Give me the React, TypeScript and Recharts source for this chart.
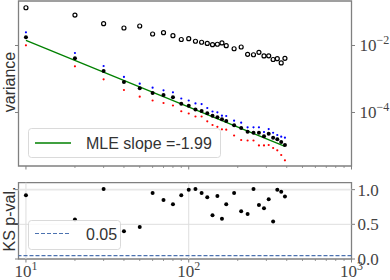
import React from 'react';
import { ComposedChart, Scatter, XAxis, YAxis, ReferenceLine, ReferenceArea } from 'recharts';

// sample sizes (x) shared by both panels
const sizes = [10, 20, 30, 40, 50, 60, 70, 80, 90, 100, 110, 120, 130, 140, 150, 160, 170, 190, 210, 230, 250, 270, 290, 310, 330, 350, 370, 390];

// top panel: variance estimates
const openVar = [0.134, 0.081, 0.0448, 0.0333, 0.0382, 0.022, 0.0241, 0.0196, 0.0151, 0.016, 0.0134, 0.0125, 0.0115, 0.0106, 0.0109, 0.0119, 0.0099, 0.008, 0.009, 0.00546, 0.0053, 0.00626, 0.00487, 0.0049, 0.00382, 0.00403, 0.00301, 0.00415];
const mleVar = [0.0176, 0.00415, 0.00173, 0.000813, 0.000527, 0.000382, 0.000333, 0.000284, 0.000182, 0.000158, 0.000123, 0.000111, 9.46e-5, 8.02e-5, 7.19e-5, 6.27e-5, 5.57e-5, 4.15e-5, 3.45e-5, 2.67e-5, 2.49e-5, 2.49e-5, 1.95e-5, 2.33e-5, 1.77e-5, 1.58e-5, 1.32e-5, 1.07e-5];
const upperVar = [0.0248, 0.00597, 0.00244, 0.00115, 0.000724, 0.00055, 0.00046, 0.000401, 0.000262, 0.000228, 0.000186, 0.000179, 0.000136, 0.000107, 0.000101, 8.02e-5, 7.87e-5, 5.69e-5, 4.96e-5, 3.62e-5, 3.62e-5, 3.62e-5, 2.62e-5, 3.21e-5, 2.49e-5, 2.13e-5, 1.9e-5, 1.77e-5];
const lowerVar = [0.01014, 0.00239, 0.00098, 0.00047, 0.000296, 0.000228, 0.000192, 0.000162, 0.000109, 9.33e-5, 7.6e-5, 7.6e-5, 5.46e-5, 4.24e-5, 3.74e-5, 3.15e-5, 3.07e-5, 2.06e-5, 1.51e-5, 1.46e-5, 1.46e-5, 1.04e-5, 1.04e-5, 1.07e-5, 8.71e-6, 7.44e-6, 5.38e-6, 3.74e-6];
const fitX = [10, 390];
const fitY = [1.43e-2, 9.75e-6];

// bottom panel: KS p-values
const ksPval = [0.92, 0.57, 1.01, 0.4, 0.46, 0.95, 0.85, 0.79, 0.92, 1.0, 1.01, 0.95, 0.89, 0.63, 0.91, 0.58, 0.79, 0.95, 0.69, 0.65, 1.01, 0.78, 0.73, 0.86, 0.54, 1.0, 0.97, 0.9];
const threshold = 0.05;

const xTicks = [10, 20, 30, 40, 50, 60, 70, 80, 90, 100, 200, 300, 400, 500, 600, 700, 800, 900, 1000];
const topYTicks = [1e-4, 1e-2];
const botYTicks = [0, 0.5, 1.0];

const X_DOMAIN = [9, 1000];
const TOP_Y = [2.53e-6, 0.2128];
const BOT_Y = [0, 1.1];

const SPINE = '#808080';
const TICKTXT = '#444';
const SERIF = '"Liberation Serif", "DejaVu Serif", serif';
const SANS = '"Liberation Sans", Arial, sans-serif';

const pts = (ys: number[]) => sizes.map((x, i) => ({ x, y: ys[i] }));
const isDecade = (v: number) => Math.abs(Math.log10(v) - Math.round(Math.log10(v))) < 1e-9;

const XTickMarks = ({ x, y, payload }: any) => {
  const major = isDecade(payload.value);
  return <line x1={x} x2={x} y1={y} y2={y + (major ? 3.5 : 2)} stroke={SPINE} strokeWidth={major ? 1 : 0.8} />;
};

const XTickLabeled = ({ x, y, payload }: any) => {
  const major = isDecade(payload.value);
  return (
    <g>
      <line x1={x} x2={x} y1={y} y2={y + (major ? 3.5 : 2)} stroke={SPINE} strokeWidth={major ? 1 : 0.8} />
      {major && (
        <text x={x} y={y + 17.5} textAnchor="middle" fontFamily={SERIF} fontSize={17} fill={TICKTXT}>
          10<tspan dy={-7} fontSize={12}>{Math.round(Math.log10(payload.value))}</tspan>
        </text>
      )}
    </g>
  );
};

const LeftTick = ({ x, y }: any) => <line x1={x - 3.5} x2={x} y1={y} y2={y} stroke={SPINE} strokeWidth={1} />;

const RightPowTick = ({ x, y, payload }: any) => (
  <g>
    <line x1={x} x2={x + 3.5} y1={y} y2={y} stroke={SPINE} strokeWidth={1} />
    <text x={x + 8} y={y + 6} fontFamily={SERIF} fontSize={17} fill={TICKTXT}>
      10<tspan dy={-7} fontSize={12}>{'\u2212' + Math.abs(Math.round(Math.log10(payload.value)))}</tspan>
    </text>
  </g>
);

const RightLinTick = ({ x, y, payload }: any) => (
  <g>
    <line x1={x} x2={x + 3.5} y1={y} y2={y} stroke={SPINE} strokeWidth={1} />
    <text x={x + 6} y={y + 6} fontFamily={SERIF} fontSize={17} fill={TICKTXT}>
      {payload.value.toFixed(1)}
    </text>
  </g>
);

const openCircle = (p: any) => <circle cx={p.cx} cy={p.cy} r={2} fill="none" stroke="#000" strokeWidth={1.2} />;
const dot = (r: number, c: string) => (p: any) => <circle cx={p.cx} cy={p.cy} r={r} fill={c} />;

export default function App() {
  return (
    <div style={{ position: 'absolute', left: 0, top: 0, width: 390, height: 280, background: '#fff' }}>
      <ComposedChart width={390} height={172} margin={{ top: 1, right: 0, bottom: 0, left: 0 }}>
        <XAxis dataKey="x" type="number" scale="log" domain={X_DOMAIN} allowDataOverflow ticks={xTicks} interval={0}
          height={6} tickSize={0} tickMargin={0} axisLine={false} tickLine={false} tick={<XTickMarks />} />
        <YAxis yAxisId="l" type="number" scale="log" domain={TOP_Y} allowDataOverflow ticks={topYTicks} width={18.5}
          tickSize={0} tickMargin={0} axisLine={false} tickLine={false} tick={<LeftTick />} />
        <YAxis yAxisId="r" orientation="right" dataKey="y" type="number" scale="log" domain={TOP_Y} allowDataOverflow
          ticks={topYTicks} width={38.5} tickSize={0} tickMargin={0} axisLine={false} tickLine={false} tick={<RightPowTick />} />
        <ReferenceArea yAxisId="r" x1={X_DOMAIN[0]} x2={X_DOMAIN[1]} y1={TOP_Y[0]} y2={TOP_Y[1]} fill="none"
          stroke={SPINE} strokeWidth={1.3} ifOverflow="visible" />
        <Scatter yAxisId="r" data={pts(openVar)} dataKey="y" shape={openCircle} isAnimationActive={false} />
        <Scatter yAxisId="r" data={fitX.map((x, i) => ({ x, y: fitY[i] }))} dataKey="y" line={{ stroke: '#008000', strokeWidth: 1.3 }}
          shape={() => null} isAnimationActive={false} />
        <Scatter yAxisId="r" data={pts(upperVar)} dataKey="y" shape={dot(1.1, '#0000ff')} isAnimationActive={false} />
        <Scatter yAxisId="r" data={pts(lowerVar)} dataKey="y" shape={dot(1.1, '#ff0000')} isAnimationActive={false} />
        <Scatter yAxisId="r" data={pts(mleVar)} dataKey="y" shape={dot(2, '#000')} isAnimationActive={false} />
      </ComposedChart>

      <ComposedChart width={390} height={108} margin={{ top: 10.7, right: 0, bottom: 0, left: 0 }}>
        <XAxis dataKey="x" type="number" scale="log" domain={X_DOMAIN} allowDataOverflow ticks={xTicks} interval={0}
          height={21} tickSize={0} tickMargin={0} axisLine={false} tickLine={false} tick={<XTickLabeled />} />
        <YAxis yAxisId="l" type="number" domain={BOT_Y} allowDataOverflow ticks={botYTicks} width={18.5}
          tickSize={0} tickMargin={0} axisLine={false} tickLine={false} tick={<LeftTick />} />
        <YAxis yAxisId="r" orientation="right" dataKey="y" type="number" domain={BOT_Y} allowDataOverflow
          ticks={botYTicks} width={38.5} tickSize={0} tickMargin={0} axisLine={false} tickLine={false} tick={<RightLinTick />} />
        <ReferenceLine yAxisId="r" x={10} stroke="#dedede" strokeWidth={1} />
        <ReferenceLine yAxisId="r" x={100} stroke="#dedede" strokeWidth={1} />
        <ReferenceLine yAxisId="r" y={0.5} stroke="#dedede" strokeWidth={1} />
        <ReferenceLine yAxisId="r" y={1.0} stroke="#e8e8e8" strokeWidth={1.8} />
        <ReferenceLine yAxisId="r" y={threshold} stroke="#4c72b0" strokeWidth={1.2} strokeDasharray="4 2" />
        <ReferenceArea yAxisId="r" x1={X_DOMAIN[0]} x2={X_DOMAIN[1]} y1={BOT_Y[0]} y2={BOT_Y[1]} fill="none"
          stroke={SPINE} strokeWidth={1.3} ifOverflow="visible" />
        <Scatter yAxisId="r" data={pts(ksPval)} dataKey="y" shape={dot(2, '#000')} isAnimationActive={false} />
      </ComposedChart>

      <svg width={390} height={280} style={{ position: 'absolute', left: 0, top: 0, pointerEvents: 'none' }}>
        <text transform="translate(15,82) rotate(-90)" textAnchor="middle" fontFamily={SANS} fontSize={16} fill="#333">variance</text>
        <text transform="translate(15,219) rotate(-90)" textAnchor="middle" fontFamily={SANS} fontSize={16} fill="#333">KS p-val.</text>

        <rect x={28.5} y={128.5} width={192} height={29} rx={3} fill="#fff" fillOpacity={0.8} stroke="#d0d0d0" strokeWidth={0.8} />
        <line x1={35} x2={71} y1={143} y2={143} stroke="#008000" strokeWidth={1.3} />
        <text x={86} y={148.5} fontFamily={SANS} fontSize={16} fill="#333">MLE slope =-1.99</text>

        <rect x={28.5} y={220.5} width={92} height={29} rx={3} fill="#fff" fillOpacity={0.8} stroke="#d0d0d0" strokeWidth={0.8} />
        <line x1={35} x2={71} y1={233.5} y2={233.5} stroke="#4c72b0" strokeWidth={1.2} strokeDasharray="4 2" />
        <text x={86} y={240} fontFamily={SANS} fontSize={16} fill="#333">0.05</text>
      </svg>
    </div>
  );
}
